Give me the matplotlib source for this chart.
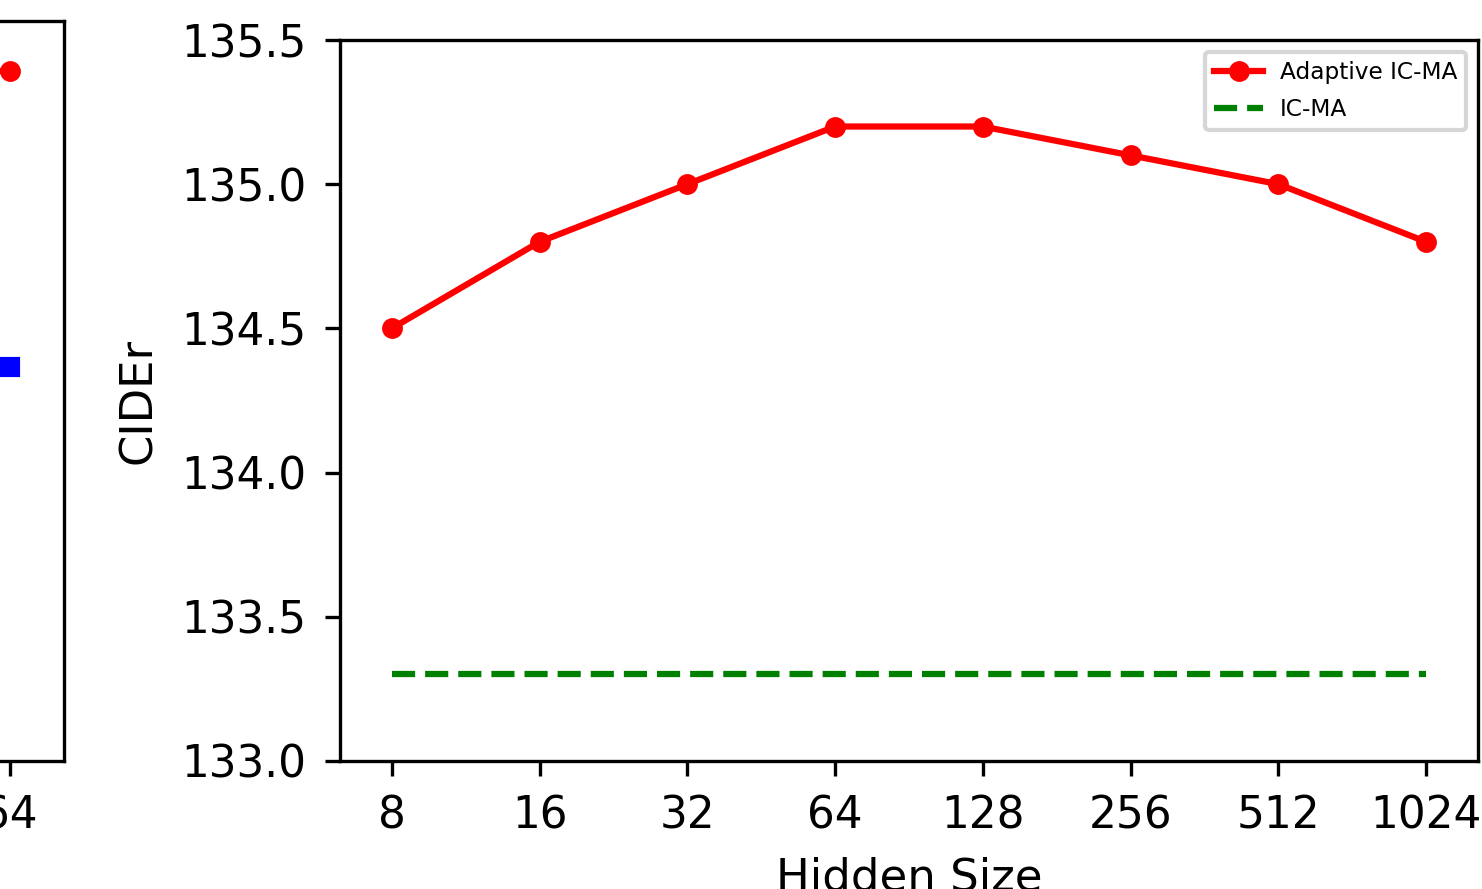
import matplotlib
matplotlib.use("Agg")
import matplotlib.pyplot as plt
from matplotlib.ticker import FormatStrFormatter

# Right panel data
hidden_sizes = ["8", "16", "32", "64", "128", "256", "512", "1024"]
adaptive_icma = [134.5, 134.8, 135.0, 135.2, 135.2, 135.1, 135.0, 134.8]
icma_baseline = [133.3] * len(hidden_sizes)

# Left panel (mostly outside the visible crop; only last points visible)
left_ticks = ["1", "2", "4", "8", "16", "32", "64"]
left_red = [135.2, 135.25, 135.3, 135.3, 135.32, 135.33, 135.33]
left_blue = [134.2, 134.25, 134.3, 134.3, 134.32, 134.33, 134.33]

W, H = 1482, 889
dpi = 300
fig = plt.figure(figsize=(W / dpi, H / dpi), dpi=dpi)
plt.rcParams['font.family'] = ['DejaVu Sans']

def box(l, r, t, b):
    return [l / W, 1 - b / H, (r - l) / W, (b - t) / H]

TICK_FS = 10.5
LABEL_FS = 10.8

# Left axes (partially visible)
axL = fig.add_axes(box(64 - 1188, 64, 21, 761))
xl = list(range(len(left_ticks)))
axL.plot(xl, left_red, '-o', color='red', lw=1.5, ms=4)
axL.plot(xl, left_blue, '-s', color='blue', lw=1.5, ms=4)
axL.set_ylim(133.0, 135.5)
axL.set_xticks(xl)
axL.set_xticklabels(left_ticks)
axL.tick_params(labelsize=TICK_FS, pad=4.5)

# Right axes
ax = fig.add_axes(box(340, 1478, 40, 761))
x = list(range(len(hidden_sizes)))
ax.plot(x, adaptive_icma, '-o', color='red', lw=1.5, ms=4, label='Adaptive IC-MA')
ax.plot(x, icma_baseline, '--', color='green', lw=1.5, label='IC-MA')
ax.set_ylim(133.0, 135.5)
ax.set_yticks([133.0, 133.5, 134.0, 134.5, 135.0, 135.5])
ax.yaxis.set_major_formatter(FormatStrFormatter('%.1f'))
ax.set_xticks(x)
ax.set_xticklabels(hidden_sizes)
ax.tick_params(labelsize=TICK_FS, pad=4.5)
ax.set_xlabel('Hidden Size', fontsize=LABEL_FS, labelpad=4.5)
ax.set_ylabel('CIDEr', fontsize=LABEL_FS, labelpad=5)
ax.legend(loc='upper right', fontsize=5.6, labelspacing=0.6,
          handlelength=2.1, borderpad=0.4, handletextpad=0.7)

fig.savefig('out.png', dpi=dpi)
